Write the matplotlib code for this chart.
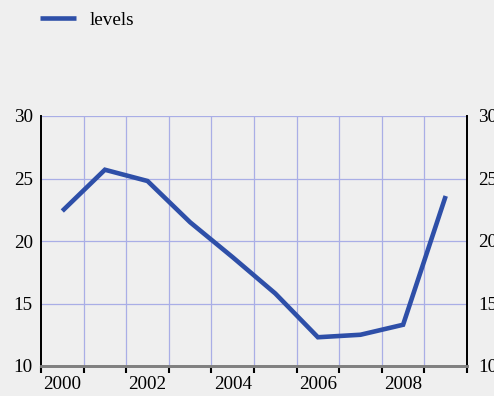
import matplotlib.pyplot as plt
import numpy as np

# Yearly levels
years = [2000, 2001, 2002, 2003, 2004, 2005, 2006, 2007, 2008, 2009]
levels = [22.4, 25.7, 24.8, 21.5, 18.7, 15.8, 12.3, 12.5, 13.3, 23.6]
y_ticks = [10, 15, 20, 25, 30]

plt.rcParams['font.family'] = ['Liberation Serif', 'DejaVu Serif']

bg = '#efefef'
line_color = '#2e4fa8'
grid_color = '#a9aee6'
fs = 13.8

fig = plt.figure(figsize=(4.94, 3.96), dpi=100, facecolor=bg)
W, H = 494, 396
ax = fig.add_axes([41 / W, (H - 366) / H, (467 - 41) / W, (366 - 116) / H])
ax.set_facecolor(bg)

x = np.arange(len(years))
ax.plot(x, levels, color=line_color, lw=3.3, solid_capstyle='butt',
        solid_joinstyle='miter', label='levels', zorder=3)

ax.set_xlim(-0.5, len(years) - 0.5)
ax.set_ylim(y_ticks[0], y_ticks[-1])

# category boundaries carry the grid and the tick marks
bounds = np.arange(-0.5, len(years), 1.0)
ax.set_xticks(bounds, minor=True)
ax.set_xticks(x[::2])
ax.set_xticklabels([str(y) for y in years[::2]], fontsize=fs)
ax.tick_params(axis='x', which='major', length=0, pad=7)
ax.tick_params(axis='x', which='minor', length=5, width=1.5,
               color='black', direction='out')
for b in bounds[1:-1]:
    ax.axvline(b, color=grid_color, lw=0.9, zorder=1)

ax.set_yticks(y_ticks)
ax.tick_params(axis='y', length=0, labelsize=fs, pad=6)
for v in y_ticks[1:]:
    ax.axhline(v, color=grid_color, lw=0.9, zorder=1)

# same scale repeated on the right
ax_r = ax.twinx()
ax_r.set_ylim(ax.get_ylim())
ax_r.set_yticks(y_ticks)
ax_r.tick_params(axis='y', length=0, labelsize=fs, pad=8)
for a in (ax, ax_r):
    for side in ['left', 'right']:
        a.spines[side].set_color('black')
        a.spines[side].set_linewidth(1.3)
    a.spines['top'].set_visible(False)
    a.spines['bottom'].set_color('#808080')
    a.spines['bottom'].set_linewidth(2)

fig.legend(loc='upper left', bbox_to_anchor=(0.047, 1.015), frameon=False,
           fontsize=fs, handlelength=1.83, handletextpad=0.73)

fig.savefig('out.png', dpi=100, facecolor=bg)
